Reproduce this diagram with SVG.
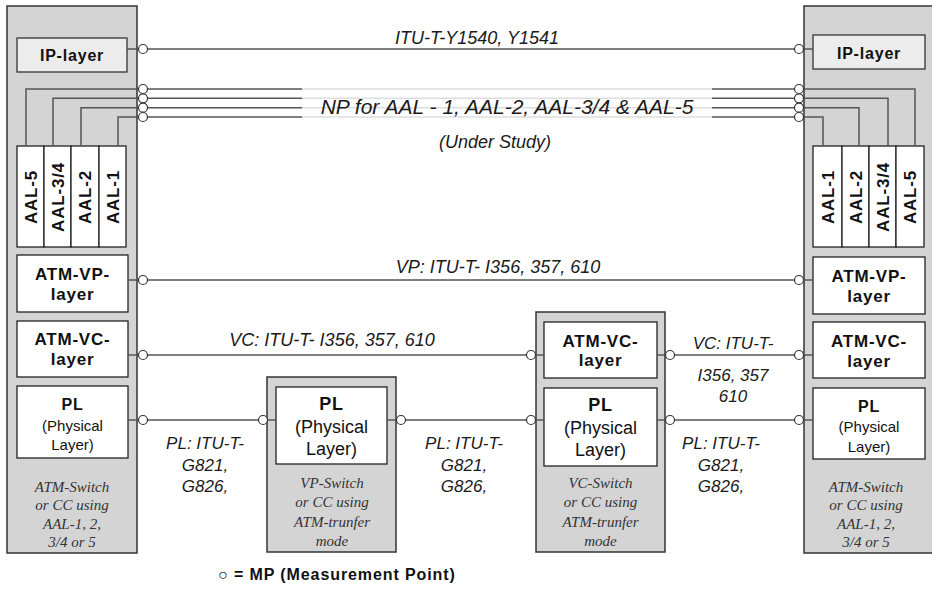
<svg xmlns="http://www.w3.org/2000/svg" width="932" height="600" viewBox="0 0 932 600">
  <defs>
    <style>
      .box { fill: #d4d4d4; stroke: #333; stroke-width: 1.5; }
      .ip { fill: #ececec; stroke: #333; stroke-width: 1.3; }
      .layer { fill: #fff; stroke: #222; stroke-width: 1.3; }
      .ln { fill: none; stroke: #555; stroke-width: 1.5; }
      .mp { fill: #fff; stroke: #333; stroke-width: 1.2; }
      .b { font-family: "Liberation Sans", Arial, sans-serif; font-weight: bold; fill: #111; text-anchor: middle; letter-spacing: 0.8px; }
      .n { font-family: "Liberation Sans", Arial, sans-serif; fill: #111; text-anchor: middle; }
      .lbl { font-family: "Liberation Sans", Arial, sans-serif; font-style: italic; fill: #1a1a1a; text-anchor: middle; }
      .sr { font-family: "Liberation Serif", "Times New Roman", serif; font-style: italic; fill: #333; text-anchor: middle; font-size: 15px; }
    </style>
  </defs>

  <rect width="932" height="600" fill="#fff"/>

  <!-- Left end station: ATM switch / CC using AAL -->
  <g id="left-station">
    <rect class="box" x="7" y="6" width="130" height="547"/>
    <g id="left-ip">
      <rect class="ip" x="17" y="38" width="110" height="34"/>
      <text class="b" x="72" y="61" font-size="16">IP-layer</text>
    </g>
    <g id="left-aal">
      <rect class="layer" x="17" y="146" width="27" height="101"/>
      <rect class="layer" x="44" y="146" width="27" height="101"/>
      <rect class="layer" x="71" y="146" width="28" height="101"/>
      <rect class="layer" x="99" y="146" width="27" height="101"/>
      <text class="b" font-size="17" transform="translate(30.5,197) rotate(-90)" dy="0.36em">AAL-5</text>
      <text class="b" font-size="17" transform="translate(57.5,197) rotate(-90)" dy="0.36em">AAL-3/4</text>
      <text class="b" font-size="17" transform="translate(85,197) rotate(-90)" dy="0.36em">AAL-2</text>
      <text class="b" font-size="17" transform="translate(112.5,197) rotate(-90)" dy="0.36em">AAL-1</text>
    </g>
    <g id="left-vp">
      <rect class="layer" x="17" y="255" width="111" height="57"/>
      <text class="b" x="72.5" y="280" font-size="17">ATM-VP-</text>
      <text class="b" x="72.5" y="300" font-size="17">layer</text>
    </g>
    <g id="left-vc">
      <rect class="layer" x="17" y="321" width="111" height="56"/>
      <text class="b" x="72.5" y="345" font-size="17">ATM-VC-</text>
      <text class="b" x="72.5" y="365" font-size="17">layer</text>
    </g>
    <g id="left-pl">
      <rect class="layer" x="17" y="386" width="111" height="72"/>
      <text class="b" x="72.5" y="410" font-size="16">PL</text>
      <text class="n" x="72.5" y="431" font-size="15">(Physical</text>
      <text class="n" x="72.5" y="450" font-size="15">Layer)</text>
    </g>
    <text class="sr" x="72" y="492">ATM-Switch</text>
    <text class="sr" x="72" y="510">or CC using</text>
    <text class="sr" x="72" y="529">AAL-1, 2,</text>
    <text class="sr" x="72" y="547">3/4 or 5</text>
  </g>

  <!-- VP switch -->
  <g id="vp-switch">
    <rect class="box" x="267" y="377" width="129" height="175"/>
    <g id="vp-pl">
      <rect class="layer" x="276" y="387" width="111" height="77"/>
      <text class="b" x="331.5" y="410" font-size="18">PL</text>
      <text class="n" x="331.5" y="433" font-size="18">(Physical</text>
      <text class="n" x="331.5" y="455" font-size="18">Layer)</text>
    </g>
    <text class="sr" x="332" y="488">VP-Switch</text>
    <text class="sr" x="332" y="507">or CC using</text>
    <text class="sr" x="332" y="527">ATM-trunfer</text>
    <text class="sr" x="332" y="546">mode</text>
  </g>

  <!-- VC switch -->
  <g id="vc-switch">
    <rect class="box" x="536" y="312" width="129" height="240"/>
    <g id="vc-vc">
      <rect class="layer" x="544" y="322" width="113" height="56"/>
      <text class="b" x="600.5" y="347" font-size="17">ATM-VC-</text>
      <text class="b" x="600.5" y="366" font-size="17">layer</text>
    </g>
    <g id="vc-pl">
      <rect class="layer" x="544" y="388" width="113" height="78"/>
      <text class="b" x="600.5" y="411" font-size="18">PL</text>
      <text class="n" x="600.5" y="434" font-size="18">(Physical</text>
      <text class="n" x="600.5" y="456" font-size="18">Layer)</text>
    </g>
    <text class="sr" x="600.5" y="488">VC-Switch</text>
    <text class="sr" x="600.5" y="507">or CC using</text>
    <text class="sr" x="600.5" y="527">ATM-trunfer</text>
    <text class="sr" x="600.5" y="546">mode</text>
  </g>

  <!-- Right end station -->
  <g id="right-station">
    <rect class="box" x="804" y="6" width="134" height="547"/>
    <g id="right-ip">
      <rect class="ip" x="813" y="35" width="112" height="34"/>
      <text class="b" x="869" y="59" font-size="16">IP-layer</text>
    </g>
    <g id="right-aal">
      <rect class="layer" x="813" y="146" width="29" height="101"/>
      <rect class="layer" x="842" y="146" width="27" height="101"/>
      <rect class="layer" x="869" y="146" width="27" height="101"/>
      <rect class="layer" x="896" y="146" width="28" height="101"/>
      <text class="b" font-size="17" transform="translate(827.5,197) rotate(-90)" dy="0.36em">AAL-1</text>
      <text class="b" font-size="17" transform="translate(855.5,197) rotate(-90)" dy="0.36em">AAL-2</text>
      <text class="b" font-size="17" transform="translate(882.5,197) rotate(-90)" dy="0.36em">AAL-3/4</text>
      <text class="b" font-size="17" transform="translate(910,197) rotate(-90)" dy="0.36em">AAL-5</text>
    </g>
    <g id="right-vp">
      <rect class="layer" x="813" y="257" width="112" height="57"/>
      <text class="b" x="869" y="282" font-size="17">ATM-VP-</text>
      <text class="b" x="869" y="302" font-size="17">layer</text>
    </g>
    <g id="right-vc">
      <rect class="layer" x="813" y="322" width="112" height="56"/>
      <text class="b" x="869" y="347" font-size="17">ATM-VC-</text>
      <text class="b" x="869" y="367" font-size="17">layer</text>
    </g>
    <g id="right-pl">
      <rect class="layer" x="813" y="388" width="112" height="71"/>
      <text class="b" x="869" y="412" font-size="16">PL</text>
      <text class="n" x="869" y="432" font-size="15">(Physical</text>
      <text class="n" x="869" y="452" font-size="15">Layer)</text>
    </g>
    <text class="sr" x="866" y="492">ATM-Switch</text>
    <text class="sr" x="866" y="510">or CC using</text>
    <text class="sr" x="866" y="529">AAL-1, 2,</text>
    <text class="sr" x="866" y="547">3/4 or 5</text>
  </g>

  <!-- Connectors between peer layers -->
  <g id="connectors">
    <path class="ln" d="M127,49 H813"/>
    <path class="ln" d="M26,146 V89 H915 V146" stroke="#666"/>
    <path class="ln" d="M53,146 V98.3 H888 V146" stroke="#a8a8a8"/>
    <path class="ln" d="M81,146 V107.7 H859 V146" stroke="#444"/>
    <path class="ln" d="M118,146 V117 H823 V146" stroke="#2a2a2a"/>
    <path class="ln" d="M128,280 H813"/>
    <path class="ln" d="M128,355 H544 M657,355 H813"/>
    <path class="ln" d="M128,420 H276 M387,420 H544 M657,420 H813"/>

    <!-- faded band behind the AAL caption -->
    <rect x="302" y="84" width="410" height="37" fill="#fff" opacity="0.8"/>

    <g id="mps">
      <circle class="mp" cx="143" cy="49" r="4.5"/>
      <circle class="mp" cx="799" cy="49" r="4.5"/>
      <circle class="mp" cx="143" cy="89" r="4.5"/>
      <circle class="mp" cx="143" cy="98.3" r="4.5"/>
      <circle class="mp" cx="143" cy="107.7" r="4.5"/>
      <circle class="mp" cx="143" cy="117" r="4.5"/>
      <circle class="mp" cx="799" cy="89" r="4.5"/>
      <circle class="mp" cx="799" cy="98.3" r="4.5"/>
      <circle class="mp" cx="799" cy="107.7" r="4.5"/>
      <circle class="mp" cx="799" cy="117" r="4.5"/>
      <circle class="mp" cx="143" cy="280" r="4.5"/>
      <circle class="mp" cx="799" cy="280" r="4.5"/>
      <circle class="mp" cx="143" cy="355" r="4.5"/>
      <circle class="mp" cx="531" cy="355" r="4.5"/>
      <circle class="mp" cx="670" cy="355" r="4.5"/>
      <circle class="mp" cx="799" cy="355" r="4.5"/>
      <circle class="mp" cx="143" cy="420" r="4.5"/>
      <circle class="mp" cx="263" cy="420" r="4.5"/>
      <circle class="mp" cx="401" cy="420" r="4.5"/>
      <circle class="mp" cx="531" cy="420" r="4.5"/>
      <circle class="mp" cx="670" cy="420" r="4.5"/>
      <circle class="mp" cx="799" cy="420" r="4.5"/>
    </g>

    <g id="labels">
      <text class="lbl" x="477" y="44" font-size="18">ITU-T-Y1540, Y1541</text>
      <text class="lbl" x="507" y="114" font-size="21">NP for AAL - 1, AAL-2, AAL-3/4 &amp; AAL-5</text>
      <text class="lbl" x="495" y="148" font-size="18">(Under Study)</text>
      <text class="lbl" x="498" y="273" font-size="18">VP: ITU-T- I356, 357, 610</text>
      <text class="lbl" x="332" y="346" font-size="18">VC: ITU-T- I356, 357, 610</text>
      <text class="lbl" x="733" y="349" font-size="17">VC: ITU-T-</text>
      <text class="lbl" x="733" y="381" font-size="17">I356, 357</text>
      <text class="lbl" x="733" y="402" font-size="17">610</text>
      <text class="lbl" x="205" y="449" font-size="17">PL: ITU-T-</text>
      <text class="lbl" x="205" y="471" font-size="17">G821,</text>
      <text class="lbl" x="205" y="492" font-size="17">G826,</text>
      <text class="lbl" x="464" y="449" font-size="17">PL: ITU-T-</text>
      <text class="lbl" x="464" y="471" font-size="17">G821,</text>
      <text class="lbl" x="464" y="492" font-size="17">G826,</text>
      <text class="lbl" x="721" y="449" font-size="17">PL: ITU-T-</text>
      <text class="lbl" x="721" y="471" font-size="17">G821,</text>
      <text class="lbl" x="721" y="492" font-size="17">G826,</text>
    </g>
  </g>

  <!-- Legend -->
  <text x="218" y="580" font-family="'Liberation Sans', Arial, sans-serif" font-size="16" font-weight="bold" fill="#111" letter-spacing="0.9"><tspan font-weight="normal">○</tspan> = MP (Measurement Point)</text>
</svg>
